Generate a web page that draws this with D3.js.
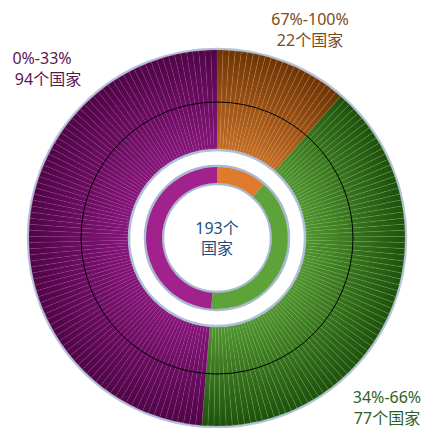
<!DOCTYPE html>
<html lang="zh">
<head>
<meta charset="UTF-8">
<title>193个国家</title>
<script src="https://d3js.org/d3.v7.min.js"></script>
<style>
  body { margin: 0; background: #fff; }
  text { font-family: "Noto Sans", "Noto Sans CJK SC", sans-serif; }
</style>
</head>
<body>
<div id="chart"></div>
<script>
// groups, in drawing order (clockwise from 12 o'clock)
var groups = ["67%-100%", "34%-66%", "0%-33%"];
var counts = [22, 77, 94];
var countLabels = ["22个国家", "77个国家", "94个国家"];
var innerColors = ["#e07a2c", "#5ea23a", "#a1228d"];
var gradInner = ["#c46e26", "#519530", "#86157a"];
var gradOuter = ["#6c3506", "#1e510d", "#4e0645"];
var lineColors = ["#dd8c45", "#6cae48", "#a02c94"];
var labelColors = ["#7b4a1c", "#2f5f1f", "#5d1552"];
var totalLabel = ["193个", "国家"];

var width = 424, height = 428;
var cx = 217, cy = 238;
var rOuter = 188, rOuterIn = 88, rMid = 136;
var rIn = 71, rInIn = 55;

var svg = d3.select("#chart").append("svg")
    .attr("width", width).attr("height", height);

var defs = svg.append("defs");
groups.forEach(function (g, i) {
    var grad = defs.append("radialGradient")
        .attr("id", "grad" + i)
        .attr("gradientUnits", "userSpaceOnUse")
        .attr("cx", 0).attr("cy", 0).attr("r", rOuter);
    grad.append("stop").attr("offset", rOuterIn / rOuter).attr("stop-color", gradInner[i]);
    grad.append("stop").attr("offset", 1).attr("stop-color", gradOuter[i]);
});

var g = svg.append("g").attr("transform", "translate(" + cx + "," + cy + ")");

// one entry per country
var countries = [];
counts.forEach(function (n, i) {
    for (var k = 0; k < n; k++) countries.push({ group: i });
});

var pie = d3.pie().sort(null).value(function () { return 1; });
var arcOuter = d3.arc().innerRadius(rOuterIn).outerRadius(rOuter);

// soft border round the outer ring
g.append("circle").attr("r", rOuter + 1)
    .attr("fill", "none").attr("stroke", "#b3c3da").attr("stroke-width", 2.5);

g.append("g").selectAll("path")
    .data(pie(countries))
    .join("path")
    .attr("d", arcOuter)
    .attr("fill", function (d) { return "url(#grad" + d.data.group + ")"; })
    .attr("stroke", function (d) { return lineColors[d.data.group]; })
    .attr("stroke-width", 0.5)
    .attr("stroke-opacity", 0.45);

// thin black circle across the outer ring
g.append("circle").attr("r", rMid)
    .attr("fill", "none").attr("stroke", "#000").attr("stroke-width", 1);

// white gap with bluish edge
g.append("circle").attr("r", rOuterIn)
    .attr("fill", "#fff").attr("stroke", "#aebfd8").attr("stroke-width", 2.5);

// inner ring by group
var pieGroups = d3.pie().sort(null);
var arcInner = d3.arc().innerRadius(rInIn).outerRadius(rIn);

g.append("circle").attr("r", rIn + 1)
    .attr("fill", "none").attr("stroke", "#a7b9d3").attr("stroke-width", 2.5);
g.append("circle").attr("r", rInIn - 1)
    .attr("fill", "none").attr("stroke", "#a7b9d3").attr("stroke-width", 2.5);

g.append("g").selectAll("path")
    .data(pieGroups(counts))
    .join("path")
    .attr("d", arcInner)
    .attr("fill", function (d, i) { return innerColors[i]; });

// centre text
g.append("text")
    .attr("text-anchor", "middle")
    .attr("fill", "#1f4f7a")
    .style("font-size", "16px")
    .selectAll("tspan")
    .data(totalLabel)
    .join("tspan")
    .attr("x", 0)
    .attr("y", function (d, i) { return -4 + i * 20; })
    .text(function (d) { return d; });

// group labels
var labelPos = [
    { x: 310, y: 25, anchor: "middle" },
    { x: 387, y: 403, anchor: "middle" },
    { x: 42, y: 64, anchor: "middle" }
];
groups.forEach(function (name, i) {
    var t = svg.append("text")
        .attr("text-anchor", labelPos[i].anchor)
        .attr("fill", labelColors[i])
        .style("font-size", "16px");
    t.append("tspan").attr("x", labelPos[i].x).attr("y", labelPos[i].y).text(name);
    t.append("tspan").attr("x", labelPos[i].x + (i === 2 ? 6 : 0)).attr("y", labelPos[i].y + 21).text(countLabels[i]);
});
</script>
</body>
</html>
